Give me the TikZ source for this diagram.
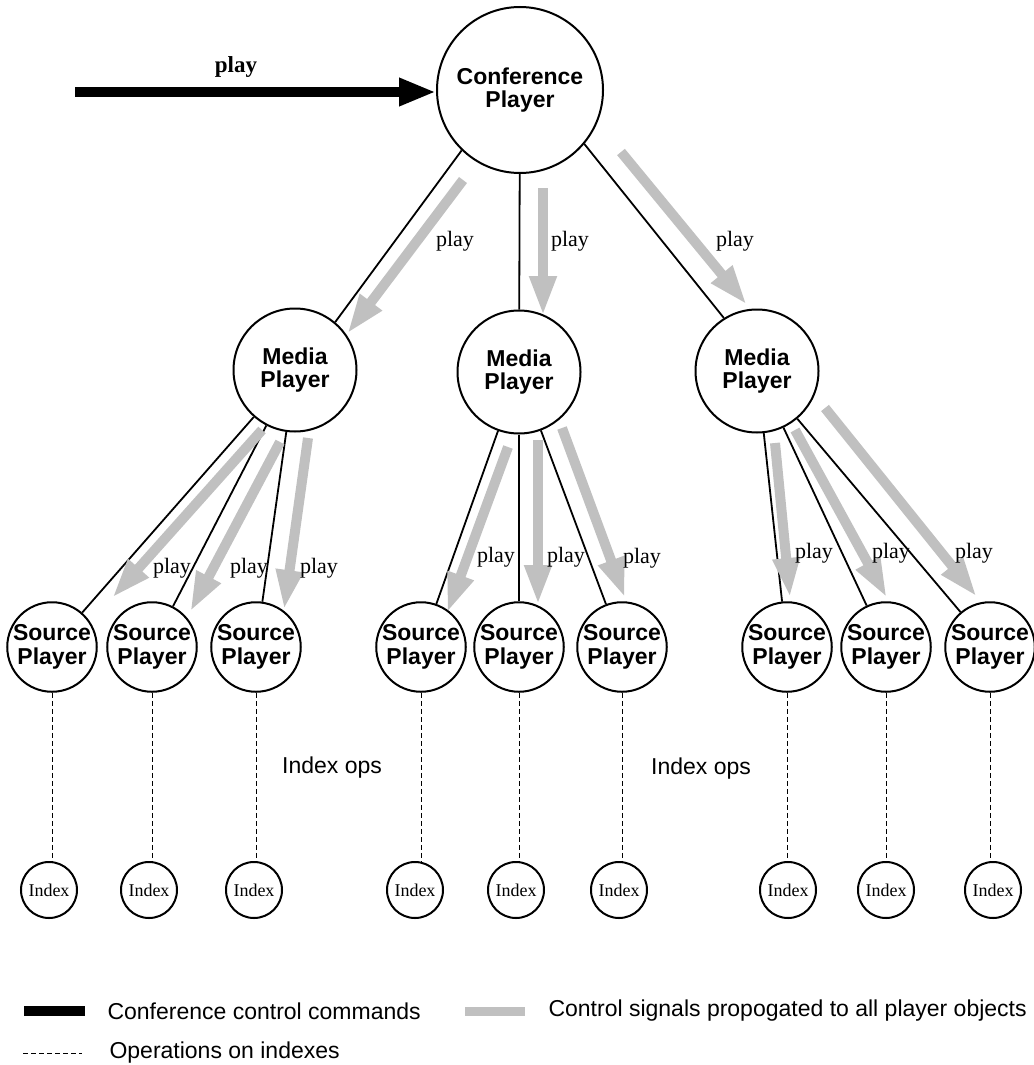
\documentclass[tikz,border=0pt]{standalone}
\usepackage{fontspec}
\setmainfont{Liberation Serif}
\setsansfont{Liberation Sans}
\usetikzlibrary{arrows.meta}
\definecolor{sgray}{RGB}{192,192,192}
\begin{document}
\begin{tikzpicture}[x=1pt,y=-1pt,
  player/.style={circle, draw, line width=2pt, inner sep=0pt, align=center,
    font=\sffamily\bfseries\fontsize{23}{23.5}\selectfont},
  conf/.style={player, minimum size=166pt},
  media/.style={player, minimum size=123pt},
  source/.style={player, minimum size=88pt},
  indexnode/.style={circle, draw, line width=2pt, inner sep=0pt, minimum size=56pt,
    font=\fontsize{18}{18}\selectfont},
  link/.style={line width=1.8pt},
  sig/.style={draw=sgray, line width=10pt, -{Triangle[length=40pt,width=25pt]}},
  cmd/.style={line width=10pt, -{Triangle[length=37pt,width=26pt]}},
  ops/.style={line width=0.8pt, dash pattern=on 5pt off 3pt},
  lbl/.style={font=\fontsize{22}{22}\selectfont},
  side/.style={font=\sffamily\fontsize{23}{23}\selectfont}
]
\useasboundingbox (0,0) rectangle (1033,1065);

% player hierarchy
\node[conf] (C) at (520,90) {Conference\\Player};
\node[media] (M1) at (295,370) {Media\\Player};
\node[media] (M2) at (519,372) {Media\\Player};
\node[media] (M3) at (757,371) {Media\\Player};

\foreach \n/\x in {1/52,2/152,3/256,4/421,5/519,6/622,7/787,8/886,9/990}
  \node[source] (S\n) at (\x,647) {Source\\Player};

\foreach \n/\x in {1/49,2/149,3/254,4/415,5/516,6/619,7/788,8/886,9/993}
  \node[indexnode] (I\n) at (\x,890) {Index};

% structural links
\draw[link] (C.226) -- (M1.50);
\draw[link] (C) -- (M2);
\draw[link] (C.320) -- (M3.122);
\foreach \s in {1,2,3} \draw[link] (M1) -- (S\s);
\foreach \s in {4,5,6} \draw[link] (M2) -- (S\s);
\foreach \s in {7,8,9} \draw[link] (M3) -- (S\s);

% index operations
\foreach \n in {1,...,9}
  \draw[ops] (S\n.south) -- (S\n.south |- I\n.north);
\node[side] (ops1) at (332,768) {Index ops};
\node[side] (ops2) at (701,769) {Index ops};

% incoming command
\coordinate (cin) at (75,92);
\draw[cmd] (cin) -- (cin -| C.west);
\node[font=\bfseries\fontsize{23}{23}\selectfont] (cmdlbl) at (236,67) {play};

% propagated control signals
\draw[sig] (463,180) -- (347,334);
\draw[sig] (543,188) -- (543,316);
\draw[sig] (621,152) -- (747,305);
\draw[sig] (262,430) -- (112,598);
\draw[sig] (280,442) -- (190,612);
\draw[sig] (308,438) -- (284,610);
\draw[sig] (508,447) -- (447,613);
\draw[sig] (538,440) -- (538,605);
\draw[sig] (562,428) -- (625,598);
\draw[sig] (775,443) -- (790,598);
\draw[sig] (795,430) -- (887,598);
\draw[sig] (825,408) -- (977,597);

\foreach \x/\y [count=\i] in {455/241,570/241,735/241,
    172/568,249/568,319/568,496/557,566/557,642/558,814/553,891/553,974/553}
  \node[lbl] (p\i) at (\x,\y) {play};

% legend
\draw[line width=10pt] (24,1011) -- (85,1011);
\node[side, anchor=west] (lg1) at (104,1011) {Conference control commands};
\draw[sgray, line width=9pt] (465,1011) -- (525,1011);
\node[side, anchor=west] (lg2) at (545,1011) {Control signals propogated to all player objects};
\draw[ops] (23,1053) -- (82,1053);
\node[side, anchor=west] (lg3) at (106,1053) {Operations on indexes};
\end{tikzpicture}
\end{document}
